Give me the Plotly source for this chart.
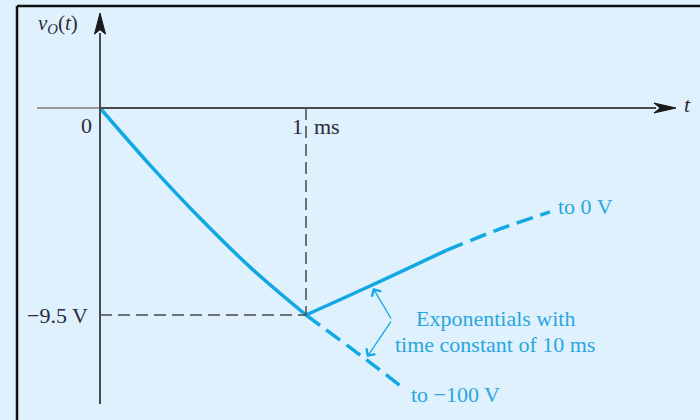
import plotly.graph_objects as go

# Output voltage v_O(t) of the amplifier: time in ms, voltage in V
t_charge = [0.0, 0.243, 0.485, 0.743, 1.0]
v_charge = [0.0, -2.62, -5.05, -7.43, -9.5]

# recovery toward 0 V after the pulse ends (solid, then dashed continuation)
t_recover = [1.0, 1.311, 1.684]
v_recover = [-9.5, -8.17, -6.52]
t_recover_ext = [1.684, 1.942, 2.184]
v_recover_ext = [-6.52, -5.55, -4.77]

# continuation of the first exponential toward -100 V
t_fall_ext = [1.0, 1.296, 1.471]
v_fall_ext = [-9.5, -11.57, -12.85]

# bracket pointing at both exponentials
t_bracket = [1.325, 1.417, 1.296]
v_bracket = [-8.26, -9.73, -11.43]

t_mark = 1.0
v_mark = -9.5
x_ticks = ["0", "1\u2002ms"]
y_tick = "\u22129.5 V"

BLUE = "#12a8e3"
TEXT_BLUE = "#2aa6e0"
AXIS = "#4a4a4a"
BG = "#dff1fc"
SERIF = "Liberation Serif"

# pixel scale of the drawing (used for arrow heads and axis extents)
PX_T = 206.0     # pixels per ms
PX_V = 21.79     # pixels per volt

fig = go.Figure()

fig.add_trace(go.Scatter(x=t_charge, y=v_charge, mode="lines", line_shape="spline",
                         line=dict(color=BLUE, width=3.5), hoverinfo="skip"))
fig.add_trace(go.Scatter(x=t_recover, y=v_recover, mode="lines", line_shape="spline",
                         line=dict(color=BLUE, width=3.5), hoverinfo="skip"))
fig.add_trace(go.Scatter(x=t_recover_ext, y=v_recover_ext, mode="lines", line_shape="spline",
                         line=dict(color=BLUE, width=3.5, dash="17px,8px"), hoverinfo="skip"))
fig.add_trace(go.Scatter(x=t_fall_ext, y=v_fall_ext, mode="lines", line_shape="spline",
                         line=dict(color=BLUE, width=3.5, dash="17px,8px"), hoverinfo="skip"))

# bracket arms with arrow heads at the curves
for i in (0, 2):
    fig.add_annotation(x=t_bracket[i], y=v_bracket[i], ax=t_bracket[1], ay=v_bracket[1],
                       xref="x", yref="y", axref="x", ayref="y", text="",
                       showarrow=True, arrowhead=4, arrowsize=1.6, arrowwidth=1.3,
                       arrowcolor=BLUE)

# guide lines to the 1 ms / -9.5 V point
fig.add_shape(type="line", x0=t_mark, x1=t_mark, y0=0, y1=v_mark,
              line=dict(color=AXIS, width=1.5, dash="12px,6px"))
fig.add_shape(type="line", x0=0, x1=t_mark, y0=v_mark, y1=v_mark,
              line=dict(color=AXIS, width=1.5, dash="12px,6px"))

# axes drawn by hand with arrow heads
t_axis_end = (656 - 100) / PX_T
t_arrow_tip = (676 - 100) / PX_T
v_axis_end = (108 - 33) / PX_V
v_arrow_tip = (108 - 13) / PX_V
v_axis_bottom = -(404 - 108) / PX_V
t_axis_left = -(100 - 37) / PX_T

fig.add_shape(type="line", x0=t_axis_left, x1=0, y0=0, y1=0,
              line=dict(color="#9a9a9a", width=2))
fig.add_shape(type="line", x0=0, x1=t_axis_end, y0=0, y1=0,
              line=dict(color=AXIS, width=2))
fig.add_shape(type="line", x0=0, x1=0, y0=v_axis_bottom, y1=v_axis_end,
              line=dict(color=AXIS, width=2))

hh = 5 / PX_V
fig.add_shape(type="path",
              path=f"M {t_axis_end - 0.01},{hh} L {t_arrow_tip},0 L {t_axis_end - 0.01},{-hh} "
                   f"L {t_axis_end + 0.02},0 Z",
              fillcolor="#1a1a1a", line=dict(color="#1a1a1a", width=1))
hw = 5.5 / PX_T
fig.add_shape(type="path",
              path=f"M {-hw},{v_axis_end - 0.05} L 0,{v_arrow_tip} L {hw},{v_axis_end - 0.05} "
                   f"L 0,{v_axis_end + 0.15} Z",
              fillcolor="#1a1a1a", line=dict(color="#1a1a1a", width=1))

# frame (top and left edges)
fig.add_shape(type="line", xref="paper", yref="paper", x0=17 / 700, x1=1.0,
              y0=1 - 6 / 420, y1=1 - 6 / 420, line=dict(color="#111", width=2.5))
fig.add_shape(type="line", xref="paper", yref="paper", x0=17 / 700, x1=17 / 700,
              y0=0, y1=1 - 6 / 420, line=dict(color="#111", width=2.5))

dark = dict(family=SERIF, size=22, color="#2b2b3a")
blue = dict(family=SERIF, size=22, color=TEXT_BLUE)

def label(x, y, text, font, xanchor="center", yanchor="middle"):
    fig.add_annotation(x=x, y=y, xref="x", yref="y", text=text, showarrow=False,
                       font=font, xanchor=xanchor, yanchor=yanchor)

label(-(100 - 36) / PX_T, (108 - 24) / PX_V, "<i>v</i><sub><i>O</i></sub>(<i>t</i>)",
      dict(family=SERIF, size=21, color="#2b2b3a"), xanchor="left")
label(-(100 - 94) / PX_T, -(125 - 108) / PX_V, x_ticks[0], dark, xanchor="right")
label((290 - 100) / PX_T, -(126 - 108) / PX_V, x_ticks[1], dark, xanchor="left")
label(-(100 - 90) / PX_T, v_mark, y_tick, dark, xanchor="right")
label((682 - 100) / PX_T, (108 - 104) / PX_V, "<i>t</i>", dark, xanchor="left")

label((556 - 100) / PX_T, -(206 - 108) / PX_V, "to 0 V", blue, xanchor="left")
label((495 - 100) / PX_T, -(318 - 108) / PX_V, "Exponentials with", blue)
label((495 - 100) / PX_T, -(344 - 108) / PX_V, "time constant of 10 ms", blue)
label((409 - 100) / PX_T, -(394 - 108) / PX_V, "to \u2212100 V", blue, xanchor="left")

fig.update_layout(
    width=700, height=420,
    margin=dict(l=0, r=0, t=0, b=0),
    paper_bgcolor=BG, plot_bgcolor=BG,
    showlegend=False,
    xaxis=dict(range=[-100 / PX_T, 600 / PX_T], visible=False, fixedrange=True),
    yaxis=dict(range=[-312 / PX_V, 108 / PX_V], visible=False, fixedrange=True),
)

fig.write_html("out.html")
